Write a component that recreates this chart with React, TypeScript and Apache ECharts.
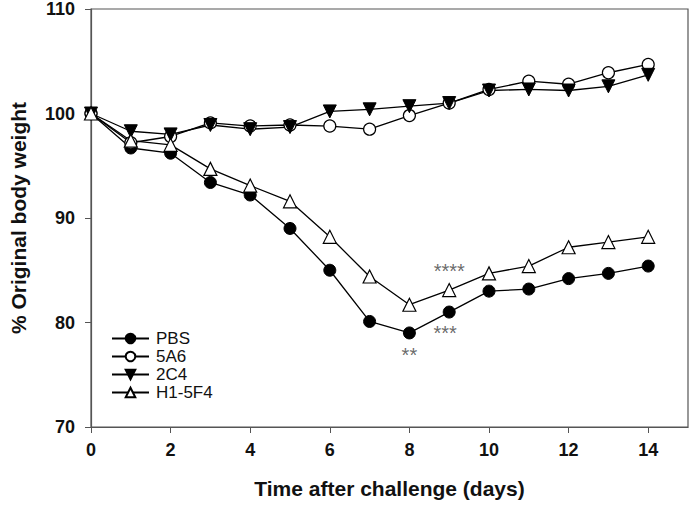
import React, { useEffect, useRef } from "react";
import * as echarts from "echarts";

const days = [0, 1, 2, 3, 4, 5, 6, 7, 8, 9, 10, 11, 12, 13, 14];
const pbs = [100, 96.7, 96.2, 93.4, 92.2, 89.0, 85.0, 80.1, 79.0, 81.0, 83.0, 83.2, 84.2, 84.7, 85.4];
const a5a6 = [100, 97.2, 97.8, 99.1, 98.8, 98.9, 98.8, 98.5, 99.8, 101.0, 102.3, 103.1, 102.8, 103.9, 104.7];
const c2c4 = [100, 98.3, 98.0, 98.9, 98.5, 98.7, 100.2, 100.4, 100.7, 101.0, 102.2, 102.3, 102.2, 102.6, 103.7];
const h15f4 = [100, 97.4, 97.0, 94.7, 93.1, 91.6, 88.2, 84.4, 81.7, 83.1, 84.7, 85.4, 87.2, 87.7, 88.2];

const xTicks = [0, 2, 4, 6, 8, 10, 12, 14];
const annotX = [8, 8.9, 9.0];
const annotY = [76.9, 79.0, 84.9];
const annotText = ["**", "***", "****"];

const FONT = "Liberation Sans, Arial, Helvetica, sans-serif";

export default function App() {
  const ref = useRef<HTMLDivElement>(null);
  useEffect(() => {
    if (!ref.current) return;
    const chart = echarts.init(ref.current, null, { renderer: "svg" });
    const toPairs = (arr: number[]) => days.map((d, i) => [d, arr[i]]);
    const lineBase = {
      type: "line",
      lineStyle: { color: "#000", width: 1.3 },
      z: 3,
    };
    chart.setOption({
      animation: false,
      grid: {
        left: 87,
        top: 7,
        right: 1,
        bottom: 80,
        show: true,
        borderColor: "#555",
        borderWidth: 1.2,
      },
      legend: {
        orient: "vertical",
        left: 106,
        top: 325,
        itemWidth: 37,
        itemHeight: 12,
        itemGap: 1,
        data: ["PBS", "5A6", "2C4", "H1-5F4"],
        textStyle: { fontSize: 17, color: "#111", fontFamily: FONT, padding: [0, 0, 0, 2] },
      },
      xAxis: {
        type: "value",
        min: 0,
        max: 15,
        interval: 2,
        name: "Time after challenge (days)",
        nameLocation: "middle",
        nameGap: 51,
        nameTextStyle: { fontSize: 21, fontWeight: "bold", color: "#111", fontFamily: FONT },
        axisLine: { show: true, lineStyle: { color: "#555", width: 1.2 } },
        axisTick: { show: true, length: 6, lineStyle: { color: "#555" }, customValues: xTicks },
        axisLabel: {
          margin: 14,
          fontSize: 18,
          fontWeight: "bold",
          color: "#111",
          fontFamily: FONT,
          customValues: xTicks,
        },
        splitLine: { show: false },
      },
      yAxis: {
        type: "value",
        min: 70,
        max: 110,
        interval: 10,
        name: "% Original body weight",
        nameLocation: "middle",
        nameGap: 62,
        nameTextStyle: { fontSize: 21, fontWeight: "bold", color: "#111", fontFamily: FONT },
        axisLine: { show: true, lineStyle: { color: "#555", width: 1.2 } },
        axisTick: { show: true, length: 6, lineStyle: { color: "#555" } },
        axisLabel: { margin: 16, fontSize: 18, fontWeight: "bold", color: "#111", fontFamily: FONT },
        splitLine: { show: false },
      },
      series: [
        {
          ...lineBase,
          name: "PBS",
          data: toPairs(pbs),
          symbol: "circle",
          symbolSize: 12,
          itemStyle: { color: "#000", borderColor: "#000", borderWidth: 1 },
        },
        {
          ...lineBase,
          name: "5A6",
          data: toPairs(a5a6),
          symbol: "circle",
          symbolSize: 12,
          itemStyle: { color: "#fff", borderColor: "#000", borderWidth: 1.2 },
        },
        {
          ...lineBase,
          name: "2C4",
          data: toPairs(c2c4),
          symbol: "triangle",
          symbolRotate: 180,
          symbolSize: 13,
          itemStyle: { color: "#000", borderColor: "#000", borderWidth: 1 },
        },
        {
          ...lineBase,
          name: "H1-5F4",
          data: toPairs(h15f4),
          symbol: "triangle",
          symbolSize: 13,
          itemStyle: { color: "#fff", borderColor: "#000", borderWidth: 1.2 },
        },
        {
          type: "scatter",
          name: "annot",
          symbol: "circle",
          symbolSize: 1,
          silent: true,
          z: 4,
          itemStyle: { color: "rgba(0,0,0,0)" },
          data: annotX.map((x, i) => ({ value: [x, annotY[i]], name: annotText[i] })),
          label: {
            show: true,
            position: "inside",
            formatter: (p: any) => p.name,
            fontSize: 20,
            color: "#444",
            fontFamily: FONT,
          },
          labelLayout: { hideOverlap: false },
        },
      ],
    });
    return () => chart.dispose();
  }, []);
  return <div ref={ref} style={{ width: 689, height: 507, position: "absolute", left: 0, top: 0 }} />;
}
